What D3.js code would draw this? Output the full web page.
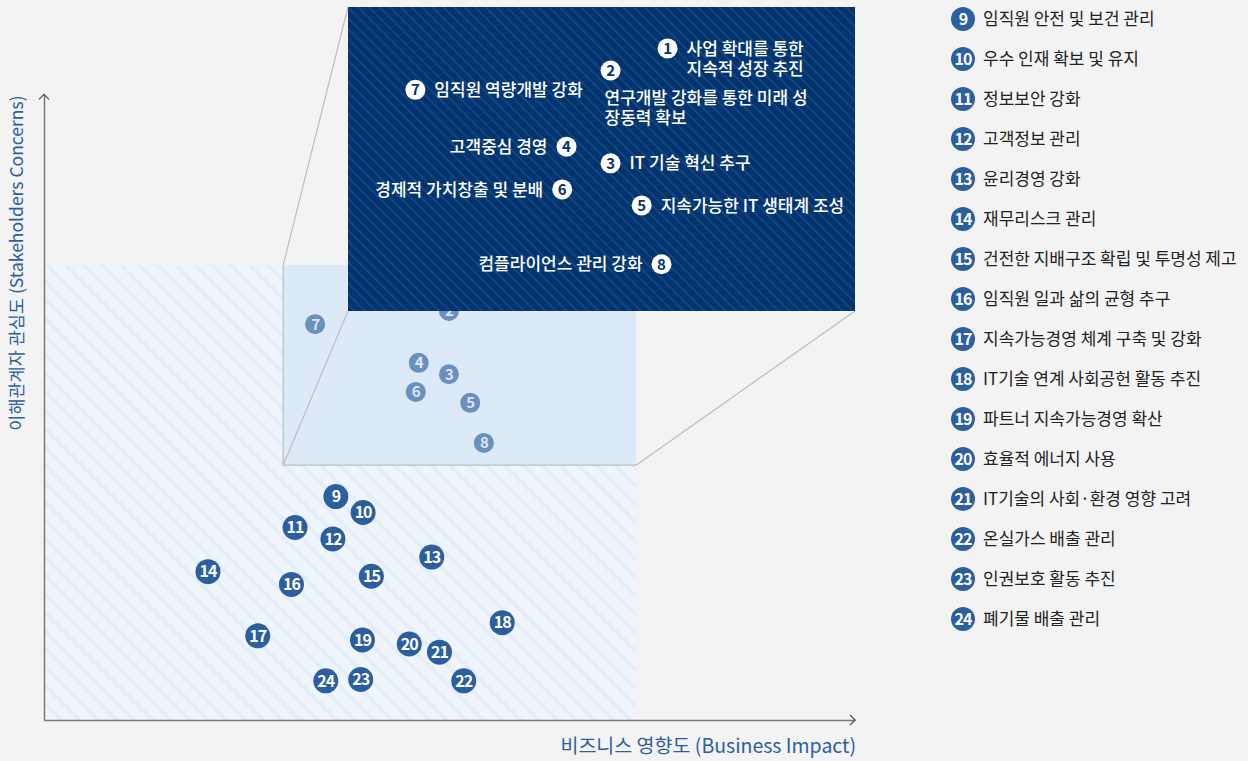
<!DOCTYPE html>
<html>
<head>
<meta charset="utf-8">
<script src="https://cdn.jsdelivr.net/npm/d3@7"></script>
<style>
  html, body { margin: 0; padding: 0; background: #f2f3f2; }
  svg { display: block; font-family: "Noto Sans CJK KR", "Noto Sans", sans-serif; }
</style>
</head>
<body>
<svg id="chart" width="1248" height="761"></svg>
<script>
// topic names, index = topic number - 1
var topics = [
    '사업 확대를 통한\n지속적 성장 추진',
    '연구개발 강화를 통한 미래 성\n장동력 확보',
    'IT 기술 혁신 추구',
    '고객중심 경영',
    '지속가능한 IT 생태계 조성',
    '경제적 가치창출 및 분배',
    '임직원 역량개발 강화',
    '컴플라이언스 관리 강화',
    '임직원 안전 및 보건 관리',
    '우수 인재 확보 및 유지',
    '정보보안 강화',
    '고객정보 관리',
    '윤리경영 강화',
    '재무리스크 관리',
    '건전한 지배구조 확립 및 투명성 제고',
    '임직원 일과 삶의 균형 추구',
    '지속가능경영 체계 구축 및 강화',
    'IT기술 연계 사회공헌 활동 추진',
    '파트너 지속가능경영 확산',
    '효율적 에너지 사용',
    'IT기술의 사회·환경 영향 고려',
    '온실가스 배출 관리',
    '인권보호 활동 추진',
    '폐기물 배출 관리'
];

// business impact (x) and stakeholder concern (y), 0-100
var impact  = [75.0, 68.4, 68.4, 63.3, 72.0, 62.8, 45.8, 74.3,
               49.3, 53.9, 42.4, 48.8, 65.5, 27.7, 55.3, 41.8,
               36.1, 77.4, 53.8, 61.7, 66.8, 70.9, 53.5, 47.6];
var concern = [93.2, 89.9, 76.0, 78.5, 69.7, 72.1, 87.0, 60.9,
               49.1, 45.6, 42.3, 39.8, 35.8, 32.6, 31.6, 29.8,
               18.5, 21.4, 17.6, 16.7, 14.9, 8.6, 8.9, 8.6];

// the first 8 topics are the material ones shown in the zoom panel
var materialCount = 8;
var insetLabelSide = ['right', 'below', 'right', 'left', 'right', 'left', 'right', 'left'];

// highlighted area and the area the zoom panel actually shows
var highlightX = [40.4, 100], highlightY = [56, 100];
var zoomX = [38.0, 96.7], zoomY = [53.9, 99.4];
var axisMaxX = 137, axisMaxY = 137.5;

var data = topics.map(function(name, i) {
    return { no: i + 1, name: name, x: impact[i], y: concern[i] };
});

var svg = d3.select('#chart');
var defs = svg.append('defs');

// diagonal hatch patterns
function hatch(id, bg, stroke, size, lw) {
    var p = defs.append('pattern')
        .attr('id', id)
        .attr('patternUnits', 'userSpaceOnUse')
        .attr('width', size)
        .attr('height', size)
        .attr('patternTransform', 'rotate(-45)');
    p.append('rect').attr('width', size).attr('height', size).attr('fill', bg);
    p.append('rect').attr('width', lw).attr('height', size).attr('fill', stroke);
}
hatch('hatchLight', '#f0f5fb', '#e5edf8', 13, 4);
hatch('hatchDark', '#023470', '#1a4980', 7.5, 1.5);

// scales
var xScale = d3.scaleLinear().domain([0, 100]).range([44, 636]);
var yScale = d3.scaleLinear().domain([0, 100]).range([720, 265]);
var zx = d3.scaleLinear().domain(zoomX).range([348, 855]);
var zy = d3.scaleLinear().domain(zoomY).range([311, 7]);

var blue = '#2c5f9f';
var lineGray = '#bdbdbd';

// light background area
svg.append('rect')
    .attr('x', xScale(0)).attr('y', yScale(100))
    .attr('width', xScale(100) - xScale(0))
    .attr('height', yScale(0) - yScale(100))
    .attr('fill', 'url(#hatchLight)');

// highlighted area
var hx0 = xScale(highlightX[0]), hx1 = xScale(highlightX[1]);
var hy0 = yScale(highlightY[0]), hy1 = yScale(highlightY[1]);
svg.append('rect')
    .attr('x', hx0).attr('y', hy1)
    .attr('width', hx1 - hx0).attr('height', hy0 - hy1)
    .attr('fill', '#dceaf7');

var bx0 = zx(zoomX[0]), bx1 = zx(zoomX[1]);
var by0 = zy(zoomY[0]), by1 = zy(zoomY[1]);

var guides = [
    [[hx0, hy1], [hx0, hy0]],
    [[hx0, hy0], [hx1, hy0]],
    [[hx0, hy1], [bx0, by1]],
    [[hx0, hy0], [bx0, by0]],
    [[hx1, hy0], [bx1, by0]],
    [[hx1, hy1], [bx1, by1]]
];
svg.append('g').selectAll('path')
    .data(guides)
    .join('path')
    .attr('d', d3.line())
    .attr('fill', 'none')
    .attr('stroke', lineGray)
    .attr('stroke-width', 1.2);

// points
var pts = svg.append('g').selectAll('g')
    .data(data)
    .join('g')
    .attr('transform', function(d) { return 'translate(' + xScale(d.x) + ',' + yScale(d.y) + ')'; });

pts.append('circle')
    .attr('r', function(d) { return d.no <= materialCount ? 10 : 12.5; })
    .attr('fill', blue)
    .attr('fill-opacity', function(d) { return d.no <= materialCount ? 0.65 : 1; });

pts.append('text')
    .attr('text-anchor', 'middle')
    .attr('dy', '0.36em')
    .attr('fill', '#fff')
    .attr('font-size', function(d) { return d.no <= materialCount ? 15 : 16; })
    .attr('font-weight', 'bold')
    .attr('letter-spacing', -1)
    .attr('fill-opacity', function(d) { return d.no <= materialCount ? 0.8 : 1; })
    .text(function(d) { return d.no; });

// zoom panel
svg.append('rect')
    .attr('x', bx0).attr('y', by1)
    .attr('width', bx1 - bx0).attr('height', by0 - by1)
    .attr('fill', 'url(#hatchDark)');

var inset = svg.append('g').selectAll('g')
    .data(data.slice(0, materialCount))
    .join('g')
    .attr('transform', function(d) { return 'translate(' + zx(d.x) + ',' + zy(d.y) + ')'; });

inset.append('circle').attr('r', 10).attr('fill', '#fff');
inset.append('text')
    .attr('text-anchor', 'middle')
    .attr('dy', '0.36em')
    .attr('fill', '#023470')
    .attr('font-size', 15)
    .attr('font-weight', 'bold')
    .text(function(d) { return d.no; });

inset.append('text')
    .attr('fill', '#fff')
    .attr('font-size', 17)
    .attr('font-weight', 500)
    .attr('text-anchor', function(d) { return insetLabelSide[d.no - 1] === 'left' ? 'end' : 'start'; })
    .each(function(d) {
        var side = insetLabelSide[d.no - 1];
        var lines = d.name.split('\n');
        var x = side === 'right' ? 19 : side === 'left' ? -19 : -6;
        var y0 = side === 'below' ? 27 : 0;
        d3.select(this).selectAll('tspan')
            .data(lines)
            .join('tspan')
            .attr('x', x)
            .attr('y', function(l, j) { return y0 + j * 20; })
            .attr('dy', '0.36em')
            .text(function(l) { return l; });
    });

// axes
var xAxisScale = d3.scaleLinear().domain([0, axisMaxX]).range([xScale(0), xScale(axisMaxX)]);
var yAxisScale = d3.scaleLinear().domain([0, axisMaxY]).range([yScale(0), yScale(axisMaxY)]);

var gx = svg.append('g')
    .attr('transform', 'translate(0,' + yScale(0) + ')')
    .call(d3.axisBottom(xAxisScale).ticks(0).tickSizeOuter(0));
var gy = svg.append('g')
    .attr('transform', 'translate(' + xScale(0) + ',0)')
    .call(d3.axisLeft(yAxisScale).ticks(0).tickSizeOuter(0));
[gx, gy].forEach(function(g) {
    g.select('.domain').attr('stroke', '#777').attr('stroke-width', 1.5);
});

// arrow heads
var ax = xAxisScale(axisMaxX), ay = yAxisScale(axisMaxY);
svg.append('path')
    .attr('d', d3.line()([[ax - 5, yScale(0) - 5], [ax, yScale(0)], [ax - 5, yScale(0) + 5]]))
    .attr('fill', 'none').attr('stroke', '#555').attr('stroke-width', 1.3);
svg.append('path')
    .attr('d', d3.line()([[xScale(0) - 5, ay + 5], [xScale(0), ay], [xScale(0) + 5, ay + 5]]))
    .attr('fill', 'none').attr('stroke', '#555').attr('stroke-width', 1.3);

// axis titles
svg.append('text')
    .attr('x', ax + 1)
    .attr('y', 746)
    .attr('dy', '0.36em')
    .attr('text-anchor', 'end')
    .attr('fill', blue)
    .attr('font-size', 19.5)
    .text('비즈니스 영향도 (Business Impact)');

svg.append('text')
    .attr('transform', 'translate(17,' + (ay + 1) + ') rotate(-90)')
    .attr('dy', '0.36em')
    .attr('text-anchor', 'end')
    .attr('fill', blue)
    .attr('font-size', 17.5)
    .text('이해관계자 관심도 (Stakeholders Concerns)');

// legend for topics 9-24
var legend = svg.append('g').selectAll('g')
    .data(data.slice(materialCount))
    .join('g')
    .attr('transform', function(d, i) { return 'translate(963,' + (19 + i * 40) + ')'; });

legend.append('circle').attr('r', 12).attr('fill', blue);
legend.append('text')
    .attr('text-anchor', 'middle')
    .attr('dy', '0.36em')
    .attr('fill', '#fff')
    .attr('font-size', 16)
    .attr('font-weight', 'bold')
    .attr('letter-spacing', -1)
    .text(function(d) { return d.no; });
legend.append('text')
    .attr('x', 20)
    .attr('dy', '0.36em')
    .attr('fill', '#222')
    .attr('font-size', 17)
    .text(function(d) { return d.name; });
</script>
</body>
</html>
